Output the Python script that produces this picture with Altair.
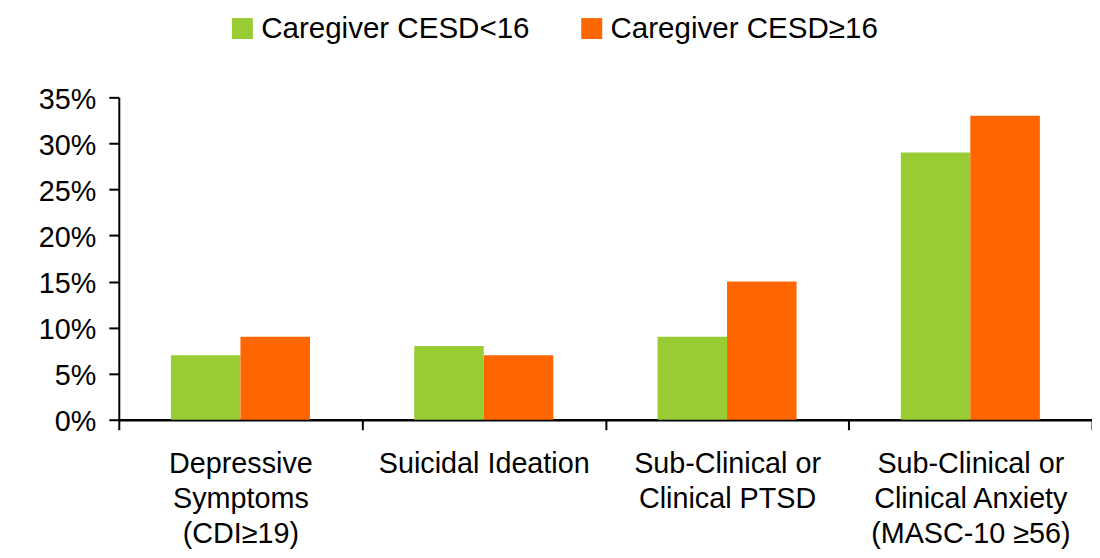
import altair as alt
import pandas as pd

categories = [
    "Depressive|Symptoms|(CDI≥19)",
    "Suicidal Ideation",
    "Sub-Clinical or|Clinical PTSD",
    "Sub-Clinical or|Clinical Anxiety|(MASC-10 ≥56)",
]
groups = ["Caregiver CESD<16", "Caregiver CESD≥16"]
low_values = [0.07, 0.08, 0.09, 0.29]
high_values = [0.09, 0.07, 0.15, 0.33]
y_ticks = [0, 0.05, 0.10, 0.15, 0.20, 0.25, 0.30, 0.35]
colors = ["#99CC33", "#FF6600"]

rows = []
for c, lo, hi in zip(categories, low_values, high_values):
    rows.append({"category": c, "group": groups[0], "value": lo})
    rows.append({"category": c, "group": groups[1], "value": hi})
df = pd.DataFrame(rows)

FONT = "Liberation Sans"

chart = alt.Chart(df).mark_bar().encode(
    x=alt.X(
        "category:N",
        sort=categories,
        scale=alt.Scale(paddingInner=0, paddingOuter=0),
        axis=alt.Axis(
            title=None,
            labelAngle=0,
            labelExpr="split(datum.label, '|')",
            tickBand="extent",
            tickSize=10,
            tickWidth=2,
            tickColor="black",
            domainColor="black",
            domainWidth=2.5,
            labelPadding=20,
            labelFontSize=28.8,
            labelFont=FONT,
            labelColor="black",
            labelLineHeight=35,
            labelBaseline="top",
            labelLimit=400,
        ),
    ),
    xOffset=alt.XOffset(
        "group:N", sort=groups, scale=alt.Scale(paddingInner=0, paddingOuter=0.75)
    ),
    y=alt.Y(
        "value:Q",
        scale=alt.Scale(domain=[0, 0.35]),
        axis=alt.Axis(
            title=None,
            values=y_ticks,
            format=".0%",
            grid=False,
            tickSize=10,
            tickWidth=2,
            tickColor="black",
            domainColor="black",
            domainWidth=2,
            labelPadding=13,
            labelFontSize=28.8,
            labelFont=FONT,
            labelColor="black",
            labelOffset=2,
        ),
    ),
    color=alt.Color(
        "group:N",
        sort=groups,
        scale=alt.Scale(domain=groups, range=colors),
        legend=alt.Legend(
            title=None,
            orient="none",
            direction="horizontal",
            legendX=109,
            legendY=-84,
            symbolType="square",
            symbolSize=441,
            symbolStrokeWidth=0,
            symbolOpacity=1,
            labelFontSize=29.6,
            labelFont=FONT,
            labelColor="black",
            labelLimit=400,
            labelOffset=4,
            columnPadding=47,
            padding=0,
        ),
    ),
).properties(
    width=975,
    height=323,
    autosize=alt.AutoSizeParams(type="none"),
    padding={"left": 111, "top": 89, "right": 0, "bottom": 130},
).configure_view(stroke=None)

chart.save("out.html", embed_options={"renderer": "svg", "actions": False})
